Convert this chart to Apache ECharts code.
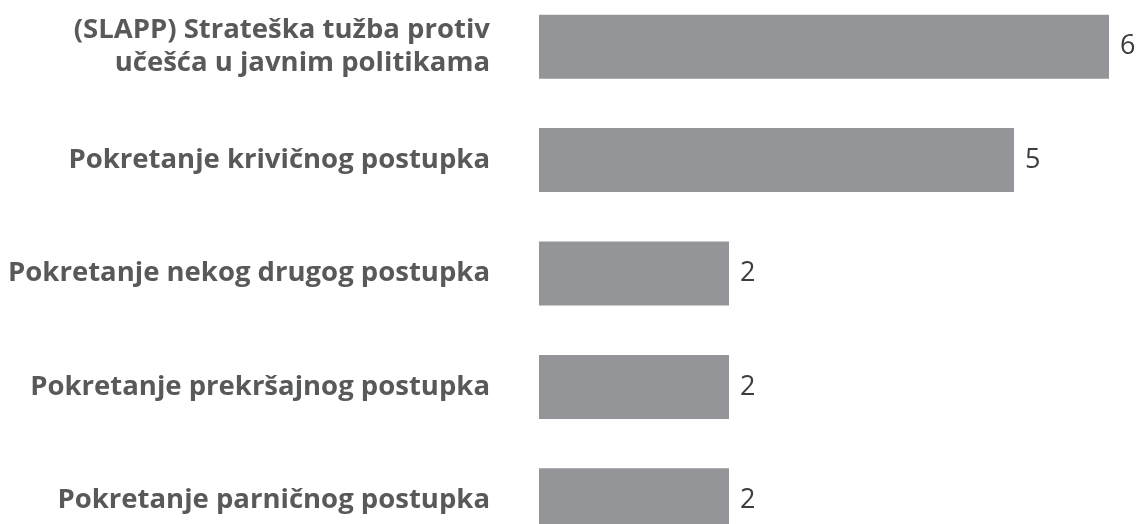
<!DOCTYPE html>
<html>
<head>
<meta charset="utf-8">
<script src="https://cdn.jsdelivr.net/npm/echarts@6/dist/echarts.min.js"></script>
<style>
html,body{margin:0;padding:0;background:#fff;}
#chart{width:1137px;height:524px;}
</style>
</head>
<body>
<div id="chart"></div>
<script>
const categories = [
  "(SLAPP) Strateška tužba protiv\nučešća u javnim politikama",
  "Pokretanje krivičnog postupka",
  "Pokretanje nekog drugog postupka",
  "Pokretanje prekršajnog postupka",
  "Pokretanje parničnog postupka"
];
const values = [6, 5, 2, 2, 2];

const chart = echarts.init(document.getElementById('chart'));
chart.setOption({
  animation: false,
  grid: { left: 539, width: 570, top: -10, height: 567, containLabel: false, outerBoundsMode: 'none' },
  xAxis: { type: 'value', min: 0, max: 6, show: false },
  yAxis: {
    type: 'category',
    data: categories,
    inverse: true,
    axisLine: { show: false },
    axisTick: { show: false },
    axisLabel: {
      margin: 49,
      fontFamily: 'Open Sans',
      fontWeight: 'bold',
      fontSize: 27.5,
      lineHeight: 33,
      color: '#58595b',
      align: 'right'
    }
  },
  series: [{
    type: 'bar',
    data: values,
    barWidth: 64,
    itemStyle: { color: '#939598' },
    label: {
      show: true,
      position: 'right',
      distance: 11,
      fontFamily: 'Open Sans',
      fontSize: 27,
      color: '#3d3d3d'
    }
  }]
});
</script>
</body>
</html>
